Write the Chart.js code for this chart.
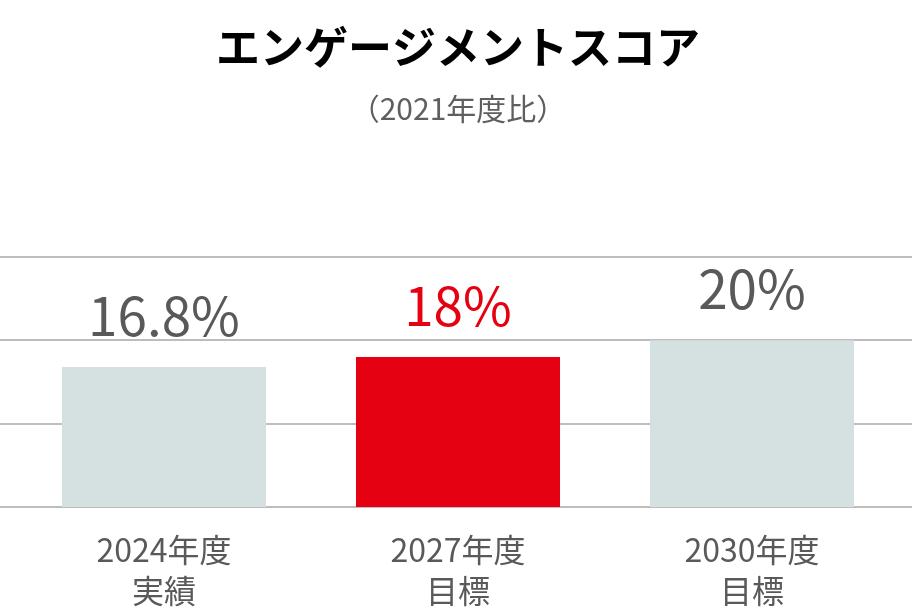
<!DOCTYPE html>
<html lang="ja">
<head>
<meta charset="utf-8">
<script src="https://cdn.jsdelivr.net/npm/chart.js@4"></script>
<style>
  html, body { margin: 0; padding: 0; background: #fff; }
  #wrap { width: 912px; height: 610px; }
</style>
</head>
<body>
<div id="wrap"><canvas id="scoreChart"></canvas></div>
<script>
const categories = [["2024年度", "実績"], ["2027年度", "目標"], ["2030年度", "目標"]];
const scores = [16.8, 18, 20];
const valueLabels = ["16.8%", "18%", "20%"];
const yTicks = [0, 10, 20, 30];

const FONT = "'Noto Sans CJK JP', 'Noto Sans', sans-serif";
const GRAY_TEXT = "#595959";
const RED = "#e50012";
const barColors = ["#d5e1e1", RED, "#d5e1e1"];
const labelColors = [GRAY_TEXT, RED, GRAY_TEXT];

// grid lines run across the whole canvas, not just the chart area
const fullWidthGrid = {
  id: "fullWidthGrid",
  beforeDatasetsDraw(chart) {
    const { ctx, scales: { y } } = chart;
    ctx.save();
    ctx.strokeStyle = "#bdbdbd";
    ctx.lineWidth = 2;
    yTicks.forEach((tick) => {
      const py = Math.round(y.getPixelForValue(tick));
      ctx.beginPath();
      ctx.moveTo(0, py);
      ctx.lineTo(chart.width, py);
      ctx.stroke();
    });
    ctx.restore();
  },
};

const valueLabelPlugin = {
  id: "valueLabels",
  afterDatasetsDraw(chart) {
    const { ctx } = chart;
    const meta = chart.getDatasetMeta(0);
    ctx.save();
    ctx.font = `400 53px ${FONT}`;
    ctx.textAlign = "center";
    ctx.textBaseline = "alphabetic";
    meta.data.forEach((bar, i) => {
      ctx.fillStyle = labelColors[i];
      ctx.fillText(valueLabels[i], bar.x, bar.y - 31);
    });
    ctx.restore();
  },
};

new Chart(document.getElementById("scoreChart"), {
  type: "bar",
  data: {
    labels: categories,
    datasets: [{
      data: scores,
      backgroundColor: barColors,
      borderWidth: 0,
      categoryPercentage: 1,
      barPercentage: 0.694,
    }],
  },
  options: {
    responsive: true,
    maintainAspectRatio: false,
    animation: false,
    layout: { padding: { left: 17, right: 13, top: 0, bottom: -23 } },
    plugins: {
      legend: { display: false },
      tooltip: { enabled: false },
      title: {
        display: true,
        text: "エンゲージメントスコア",
        color: "#000",
        font: { family: FONT, size: 44, weight: "bold", lineHeight: 1.2 },
        padding: { top: 21, bottom: 17 },
      },
      subtitle: {
        display: true,
        text: "（2021年度比）",
        color: "#5f5f5f",
        font: { family: FONT, size: 30, lineHeight: 1.2 },
        padding: { top: 0, bottom: 130 },
      },
    },
    scales: {
      x: {
        grid: { display: false, drawTicks: false },
        border: { display: false },
        ticks: {
          color: GRAY_TEXT,
          padding: 22,
          font: { family: FONT, size: 32, lineHeight: 1.28 },
          maxRotation: 0,
        },
      },
      y: {
        display: false,
        min: 0,
        max: 30,
        ticks: { stepSize: 10 },
      },
    },
  },
  plugins: [fullWidthGrid, valueLabelPlugin],
});
</script>
</body>
</html>
